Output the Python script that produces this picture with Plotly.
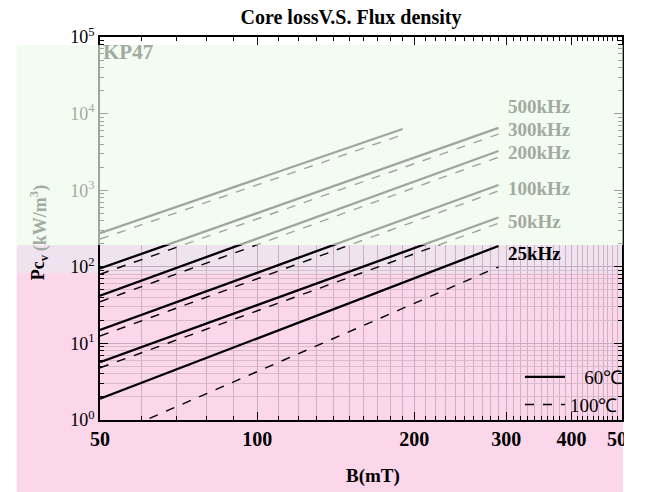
import plotly.graph_objects as go
import math

# ---------------- data ----------------
freq_labels = ["25kHz", "50kHz", "100kHz", "200kHz", "300kHz", "500kHz"]
b_start = [50, 50, 50, 50, 50, 50]          # mT
b_end = [290, 290, 290, 290, 290, 190]      # mT
pcv60_start = [1.9, 5.7, 15, 42, 95, 275]   # kW/m3 at 60C
pcv60_end = [187, 440, 1170, 3250, 6500, 6300]
pcv100_start = [0.55, 4.8, 12.5, 35, 80, 230]  # kW/m3 at 100C
pcv100_end = [100, 370, 980, 2700, 5400, 5300]
x_ticks = [50, 100, 200, 300, 400, 500]
y_ticks = [1, 10, 100, 1000, 10000, 100000]
y_tick_text = ["10<sup>0</sup>", "10<sup>1</sup>", "10<sup>2</sup>",
               "10<sup>3</sup>", "10<sup>4</sup>", "10<sup>5</sup>"]
x_minor = [v for v in range(50, 501, 10)]
y_minor = [m * 10 ** e for e in range(0, 5) for m in range(2, 10)]

# ---------------- layout geometry (pixels) ----------------
W, H = 649, 492
L, R, T, BOT = 100, 632, 37, 420
def px(x):
    return (x - L) / (R - L)
def py(y):
    return (BOT - y) / (BOT - T)

SERIF = "Liberation Serif, Times New Roman, serif"
GRAY = "#a2aaa2"
XR = [math.log10(50), math.log10(500)]
YR = [0, 5]
split = py(245)  # fraction of plot height where the green band starts

fig = go.Figure()
# empty trace so the grid-only subplot (x, y) is rendered
fig.add_trace(go.Scatter(x=[], y=[], xaxis="x", yaxis="y", showlegend=False,
                         hoverinfo="skip"))
for i, f in enumerate(freq_labels):
    fig.add_trace(go.Scatter(
        x=[b_start[i], b_end[i]], y=[pcv60_start[i], pcv60_end[i]],
        mode="lines", line=dict(color="black", width=2.3),
        name="\u00a0\u00a0\u00a060\u2103", legendgroup="60", showlegend=(i == 0),
        xaxis="x2", yaxis="y2"))
    fig.add_trace(go.Scatter(
        x=[b_start[i], b_end[i]], y=[pcv100_start[i], pcv100_end[i]],
        mode="lines", line=dict(color="black", width=1.4, dash="dash"),
        name="100\u2103", legendgroup="100", showlegend=(i == 0),
        xaxis="x2", yaxis="y2"))

shapes = [
    dict(type="rect", xref="paper", yref="paper", layer="below",
         x0=px(15), x1=px(633), y0=py(492), y1=py(273),
         fillcolor="#fcd6ea", line=dict(width=0)),
    dict(type="rect", xref="paper", yref="paper", layer="below",
         x0=px(15), x1=px(633), y0=py(273), y1=py(245),
         fillcolor="#efe3ef", line=dict(width=0)),
    dict(type="rect", xref="paper", yref="paper", layer="below",
         x0=px(15), x1=px(633), y0=py(245), y1=py(45),
         fillcolor="#f3fcf0", line=dict(width=0)),
    # washes the upper band out to grey
    dict(type="rect", xref="paper", yref="paper", layer="above",
         x0=px(15), x1=px(633), y0=py(245), y1=py(45),
         fillcolor="rgba(243,252,240,0.66)", line=dict(width=0)),
    # white strip at the right edge
    dict(type="rect", xref="paper", yref="paper", layer="above",
         x0=px(634), x1=px(660), y0=py(500), y1=py(45),
         fillcolor="white", line=dict(width=0)),
]

annotations = []
label_shift = [-8, -4, -4, -2, -2, 0]
for i, f in enumerate(freq_labels):
    if f == "500kHz":
        yv = math.log10(pcv60_end[4]) + 0.28
    else:
        yv = math.log10(pcv60_end[i])
    annotations.append(dict(
        x=math.log10(300), y=yv, xref="x2", yref="y2", text="<b>" + f + "</b>",
        showarrow=False, xanchor="left", yanchor="middle", yshift=label_shift[i],
        font=dict(family=SERIF, size=19, color="black" if f == "25kHz" else GRAY)))

annotations += [
    dict(x=px(101), y=py(52), xref="paper", yref="paper", text="<b>KP47</b>",
         showarrow=False, xanchor="left", yanchor="middle",
         font=dict(family=SERIF, size=21, color=GRAY)),
    dict(x=px(378), y=py(476), xref="paper", yref="paper", text="<b>B(mT)</b>",
         showarrow=False, xanchor="center", yanchor="middle",
         font=dict(family=SERIF, size=19, color="black")),
    dict(x=px(38), y=py(282), xref="paper", yref="paper",
         text="<b>Pc<sub>v</sub></b>", textangle=-90,
         showarrow=False, xanchor="center", yanchor="bottom",
         font=dict(family=SERIF, size=18, color="black")),
    dict(x=px(38), y=py(253), xref="paper", yref="paper",
         text="<b>(kW/m<sup>3</sup>)</b>", textangle=-90,
         showarrow=False, xanchor="center", yanchor="bottom",
         font=dict(family=SERIF, size=18, color=GRAY)),
]

fig.update_layout(
    width=W, height=H,
    margin=dict(l=L, r=W - R, t=T, b=H - BOT),
    paper_bgcolor="white", plot_bgcolor="rgba(0,0,0,0)",
    title=dict(text="<b>Core lossV.S. Flux density</b>", xref="container",
               yref="container", x=351 / W, y=1 - 17 / H,
               xanchor="center", yanchor="middle",
               font=dict(family=SERIF, size=20, color="black")),
    shapes=shapes, annotations=annotations,
    showlegend=True,
    legend=dict(x=px(528), y=py(358), xanchor="left", yanchor="top",
                bgcolor="rgba(0,0,0,0)", itemwidth=40, tracegroupgap=0,
                font=dict(family=SERIF, size=19, color="black")),
    # grid-only subplot covering the lower (pink) part of the plot
    xaxis=dict(type="log", range=XR, domain=[0, 1], anchor="y",
               showticklabels=False, ticks="", showline=False, zeroline=False,
               showgrid=True, gridcolor="#c9a9bd", gridwidth=1, tickvals=x_ticks,
               minor=dict(tickvals=x_minor, showgrid=True,
                          gridcolor="#cdb0c2", gridwidth=1)),
    yaxis=dict(type="log", range=[YR[0], YR[1] * split], domain=[0, split],
               anchor="x", showticklabels=False, ticks="", showline=False,
               zeroline=False, showgrid=True, gridcolor="#c9a9bd", gridwidth=1,
               tickvals=y_ticks,
               minor=dict(tickvals=y_minor, showgrid=True,
                          gridcolor="#d8bccd", gridwidth=1)),
    # main axes carrying the curves, frame and labels
    xaxis2=dict(type="log", range=XR, domain=[0, 1], anchor="y2",
                tickvals=x_ticks, ticktext=["<b>%d</b>" % v for v in x_ticks],
                tickfont=dict(family=SERIF, size=20, color="black"),
                ticks="inside", ticklen=8, tickcolor="black",
                showline=True, linecolor="black", linewidth=1.5, mirror="ticks",
                showgrid=False, zeroline=False,
                minor=dict(tickvals=x_minor, ticks="inside", ticklen=4,
                           tickcolor="black", showgrid=False)),
    yaxis2=dict(type="log", range=YR, domain=[0, 1], anchor="x2",
                tickvals=y_ticks, ticktext=y_tick_text,
                tickfont=dict(family=SERIF, size=18, color="black"),
                ticks="inside", ticklen=8, tickcolor="black",
                showline=True, linecolor="black", linewidth=1.5, mirror="ticks",
                showgrid=False, zeroline=False,
                minor=dict(tickvals=y_minor, ticks="inside", ticklen=4,
                           tickcolor="black", showgrid=False)),
)

fig.write_html("out.html", config={"displayModeBar": False},
               post_script="document.body.style.margin='0';")
